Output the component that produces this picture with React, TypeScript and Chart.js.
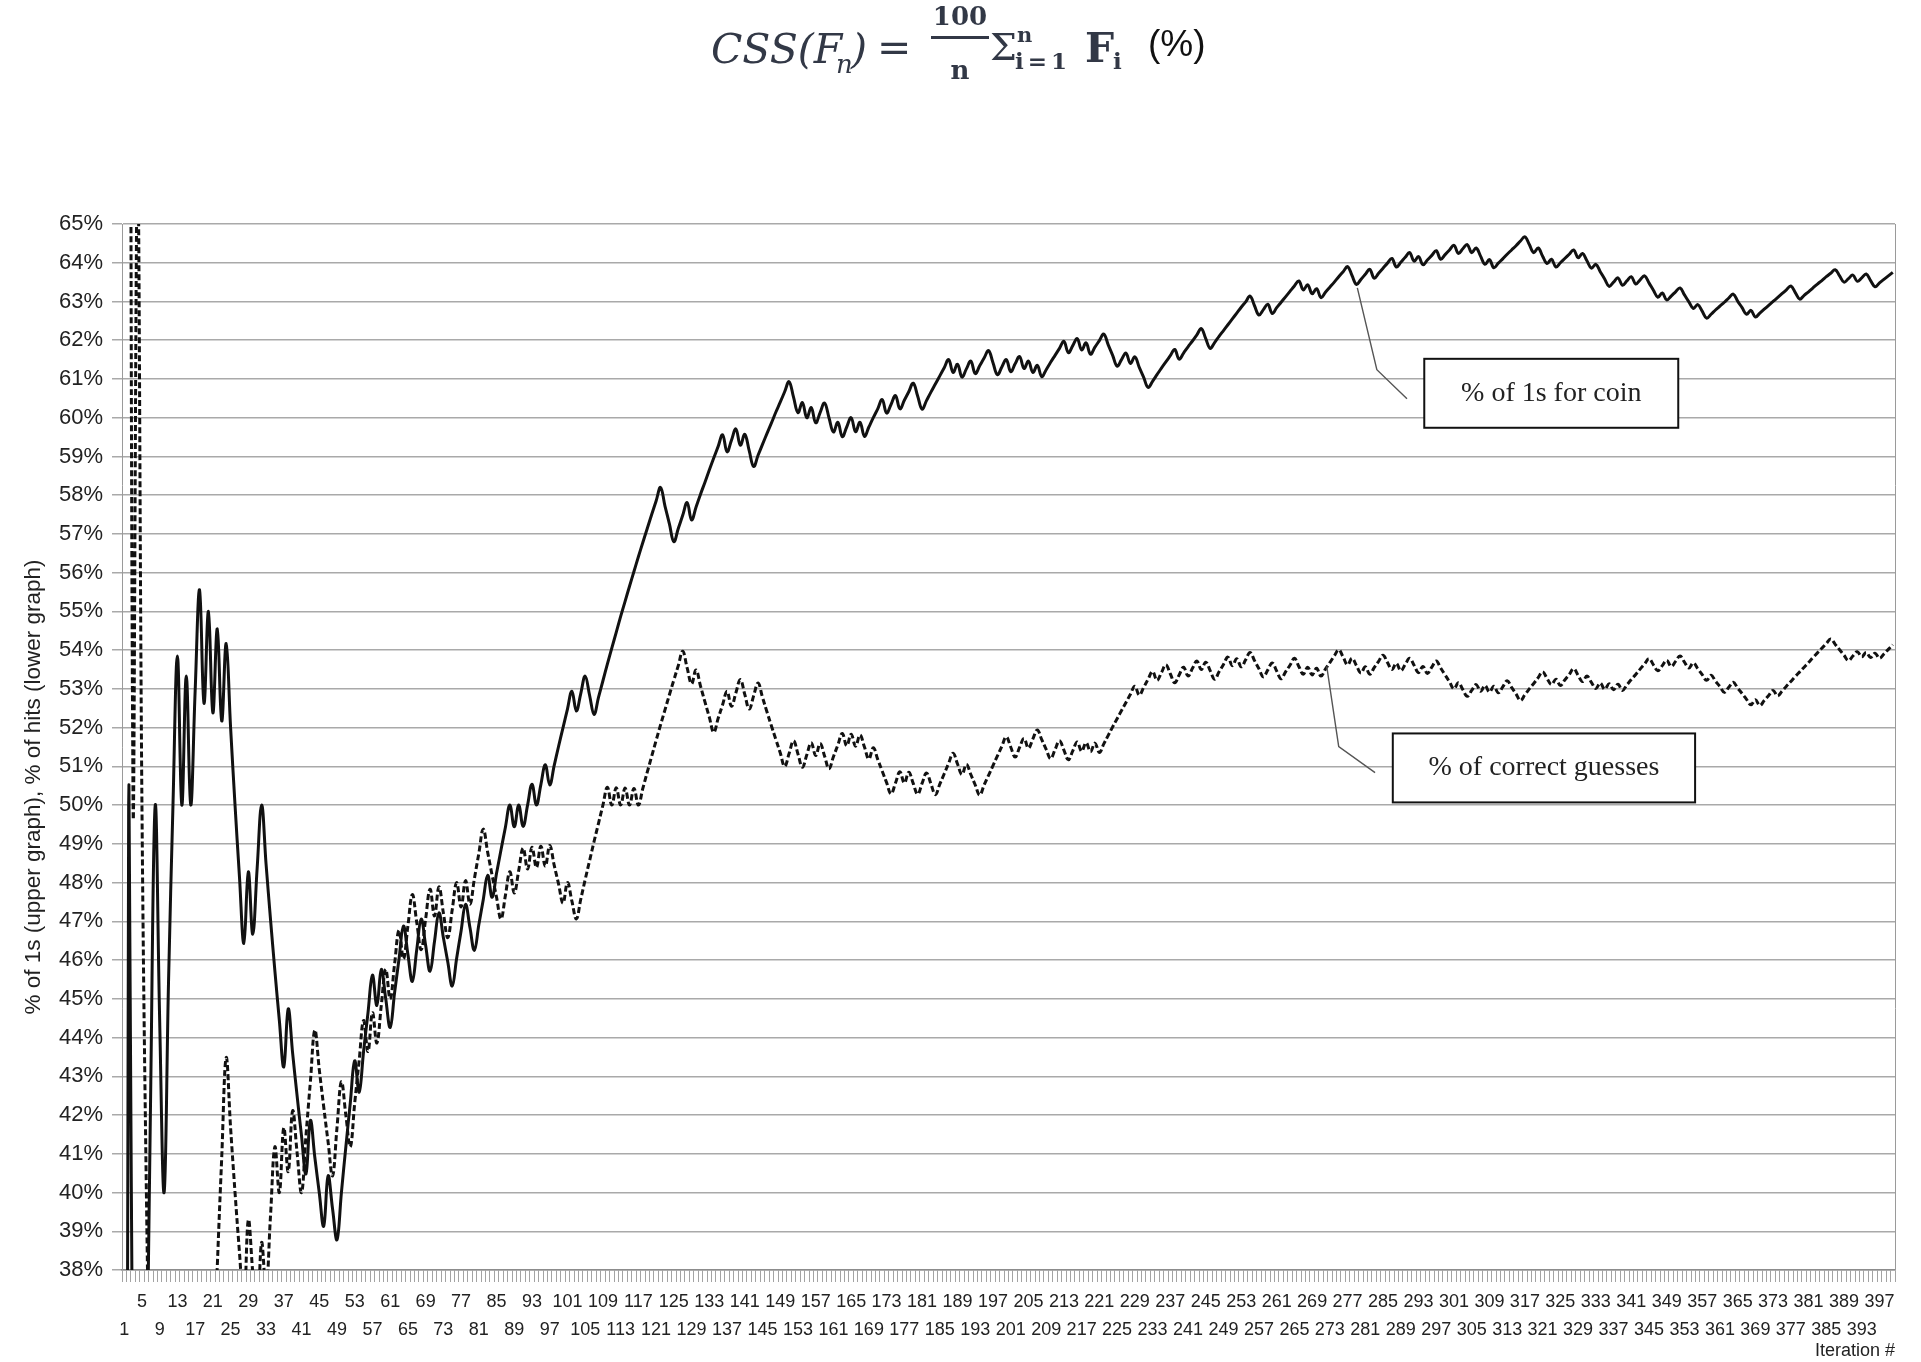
import React, { useEffect, useRef } from 'react';
import { Chart, registerables } from 'chart.js';

Chart.register(...registerables);

// ---------------- data ----------------
const firstIteration = 1;
const lastIteration = 400;
const iterations: number[] = Array.from(
  { length: lastIteration - firstIteration + 1 },
  (_, i) => firstIteration + i
);
const labelEvery = 4;

const yMin = 38;
const yMax = 65;
const yStep = 1;

// % of 1s for coin (upper graph)
const coinOnesPct: number[] = [
  0, 50, 33.33, 25, 20, 33.33, 42.86, 50, 44.44, 40, 45.45, 50, 53.85, 50, 53.33, 50, 52.94, 55.56, 52.63, 55,
  52.38, 54.55, 52.17, 54.17, 52, 50, 48.15, 46.43, 48.28, 46.67, 48.39, 50, 48.48, 47.06, 45.71, 44.44, 43.24, 44.74, 43.59, 42.5,
  41.46, 40.48, 41.86, 40.91, 40, 39.13, 40.43, 39.58, 38.78, 40, 41.18, 42.31, 43.4, 42.59, 43.64, 44.64, 45.61, 44.83, 45.76, 45,
  44.26, 45.16, 46.03, 46.88, 46.15, 45.45, 46.27, 47.06, 46.38, 45.71, 46.48, 47.22, 46.58, 45.95, 45.33, 46.05, 46.75, 47.44, 46.84, 46.25,
  46.91, 47.56, 48.19, 47.62, 48.24, 48.84, 49.43, 50, 49.44, 50, 49.45, 50, 50.54, 50, 50.53, 51.04, 50.52, 51.02, 51.52, 52,
  52.48, 52.94, 52.43, 52.88, 53.33, 52.83, 52.34, 52.78, 53.21, 53.64, 54.05, 54.46, 54.87, 55.26, 55.65, 56.03, 56.41, 56.78, 57.14, 57.5,
  57.85, 58.2, 57.72, 57.26, 56.8, 57.14, 57.48, 57.81, 57.36, 57.69, 58.02, 58.33, 58.65, 58.96, 59.26, 59.56, 59.12, 59.42, 59.71, 59.29,
  59.57, 59.15, 58.74, 59.03, 59.31, 59.59, 59.86, 60.14, 60.4, 60.67, 60.93, 60.53, 60.13, 60.39, 60, 60.26, 59.87, 60.13, 60.38, 60,
  59.63, 59.88, 59.51, 59.76, 60, 59.64, 59.88, 59.52, 59.76, 60, 60.23, 60.47, 60.12, 60.34, 60.57, 60.23, 60.45, 60.67, 60.89, 60.56,
  60.22, 60.44, 60.66, 60.87, 61.08, 61.29, 61.5, 61.17, 61.38, 61.05, 61.26, 61.46, 61.14, 61.34, 61.54, 61.73, 61.42, 61.11, 61.31, 61.5,
  61.19, 61.39, 61.58, 61.27, 61.46, 61.17, 61.35, 61.06, 61.24, 61.43, 61.61, 61.79, 61.97, 61.68, 61.86, 62.04, 61.75, 61.93, 61.64, 61.82,
  61.99, 62.16, 61.88, 61.61, 61.33, 61.5, 61.67, 61.4, 61.57, 61.3, 61.04, 60.78, 60.94, 61.11, 61.28, 61.44, 61.6, 61.76, 61.51, 61.67,
  61.83, 61.98, 62.14, 62.3, 62.04, 61.79, 61.94, 62.1, 62.25, 62.4, 62.55, 62.7, 62.85, 62.99, 63.14, 62.89, 62.65, 62.79, 62.93, 62.69,
  62.84, 62.98, 63.12, 63.26, 63.4, 63.53, 63.3, 63.43, 63.2, 63.33, 63.1, 63.24, 63.37, 63.5, 63.64, 63.77, 63.9, 63.67, 63.44, 63.57,
  63.7, 63.83, 63.6, 63.73, 63.86, 63.99, 64.11, 63.89, 64.01, 64.14, 64.26, 64.04, 64.16, 63.95, 64.07, 64.19, 64.31, 64.09, 64.21, 64.33,
  64.45, 64.24, 64.36, 64.47, 64.26, 64.38, 64.17, 63.96, 64.08, 63.87, 63.99, 64.1, 64.22, 64.33, 64.44, 64.56, 64.67, 64.47, 64.26, 64.38,
  64.17, 63.98, 64.09, 63.89, 64, 64.11, 64.22, 64.33, 64.13, 64.24, 64.05, 63.86, 63.96, 63.77, 63.58, 63.39, 63.5, 63.61, 63.42, 63.53,
  63.64, 63.45, 63.56, 63.66, 63.48, 63.29, 63.11, 63.22, 63.04, 63.14, 63.25, 63.35, 63.17, 62.99, 62.82, 62.92, 62.75, 62.57, 62.67, 62.78,
  62.88, 62.98, 63.09, 63.19, 63.01, 62.84, 62.67, 62.77, 62.6, 62.7, 62.8, 62.9, 63, 63.1, 63.2, 63.3, 63.4, 63.23, 63.06, 63.16,
  63.25, 63.35, 63.45, 63.54, 63.64, 63.73, 63.82, 63.66, 63.5, 63.59, 63.68, 63.52, 63.61, 63.71, 63.54, 63.38, 63.48, 63.57, 63.66, 63.75,
];

// % of correct guesses (lower graph)
const correctGuessPct: (number | null)[] = [
  null, 100, 50, 66.67, 50, 40, 33.33, 28.57, 37.5, 33.33, 30, 36.36, 33.33, 30.77, 35.71, 33.33, 31.25, 35.29, 33.33, 31.58,
  35, 38.1, 40.91, 43.48, 41.67, 40, 38.46, 37.04, 39.29, 37.93, 36.67, 38.71, 37.5, 39.39, 41.18, 40, 41.67, 40.54, 42.11, 41.03,
  40, 41.46, 42.86, 44.19, 43.18, 42.22, 41.3, 40.43, 41.67, 42.86, 42, 41.18, 42.31, 43.4, 44.44, 43.64, 44.64, 43.86, 44.83, 45.76,
  45, 45.9, 46.77, 46.03, 46.88, 47.69, 46.97, 46.27, 47.06, 47.83, 47.14, 47.89, 47.22, 46.58, 47.3, 48, 47.37, 48.05, 47.44, 48.1,
  48.75, 49.38, 48.78, 48.19, 47.62, 47.06, 47.67, 48.28, 47.73, 48.31, 48.89, 48.35, 48.91, 48.39, 48.94, 48.42, 48.96, 48.45, 47.96, 47.47,
  48, 47.52, 47.06, 47.57, 48.08, 48.57, 49.06, 49.53, 50, 50.46, 50, 50.45, 50, 50.44, 50, 50.43, 50, 50.43, 50.85, 51.26,
  51.67, 52.07, 52.46, 52.85, 53.23, 53.6, 53.97, 53.54, 53.13, 53.49, 53.08, 52.67, 52.27, 51.88, 52.24, 52.59, 52.94, 52.55, 52.9, 53.24,
  52.86, 52.48, 52.82, 53.15, 52.78, 52.41, 52.05, 51.7, 51.35, 51, 51.33, 51.66, 51.32, 50.98, 51.3, 51.61, 51.28, 51.59, 51.27, 50.94,
  51.25, 51.55, 51.85, 51.53, 51.83, 51.52, 51.81, 51.5, 51.19, 51.48, 51.18, 50.88, 50.58, 50.29, 50.57, 50.86, 50.57, 50.85, 50.56, 50.28,
  50.56, 50.83, 50.55, 50.27, 50.54, 50.81, 51.08, 51.34, 51.06, 50.79, 51.05, 50.79, 50.52, 50.26, 50.52, 50.77, 51.02, 51.27, 51.52, 51.76,
  51.5, 51.24, 51.49, 51.72, 51.47, 51.71, 51.94, 51.69, 51.44, 51.2, 51.43, 51.66, 51.42, 51.17, 51.4, 51.63, 51.39, 51.61, 51.38, 51.6,
  51.36, 51.58, 51.8, 52.02, 52.23, 52.44, 52.65, 52.86, 53.07, 52.84, 53.04, 53.25, 53.45, 53.22, 53.42, 53.62, 53.39, 53.16, 53.36, 53.56,
  53.33, 53.53, 53.72, 53.5, 53.69, 53.47, 53.25, 53.44, 53.63, 53.82, 53.6, 53.78, 53.57, 53.75, 53.94, 53.73, 53.52, 53.31, 53.49, 53.67,
  53.46, 53.26, 53.44, 53.61, 53.79, 53.58, 53.38, 53.56, 53.36, 53.53, 53.33, 53.51, 53.68, 53.85, 54.01, 53.82, 53.62, 53.79, 53.6, 53.41,
  53.57, 53.38, 53.55, 53.71, 53.87, 53.68, 53.5, 53.66, 53.47, 53.63, 53.79, 53.61, 53.42, 53.58, 53.4, 53.56, 53.72, 53.54, 53.36, 53.18,
  53, 53.16, 52.98, 52.81, 52.96, 53.11, 52.94, 53.09, 52.92, 53.07, 52.9, 53.05, 53.21, 53.04, 52.87, 52.7, 52.85, 53, 53.14, 53.29,
  53.44, 53.27, 53.11, 53.25, 53.09, 53.23, 53.37, 53.52, 53.35, 53.19, 53.33, 53.17, 53.01, 53.15, 52.99, 53.13, 52.98, 53.12, 52.96, 53.1,
  53.24, 53.37, 53.51, 53.64, 53.78, 53.62, 53.47, 53.6, 53.74, 53.58, 53.71, 53.85, 53.69, 53.54, 53.67, 53.52, 53.37, 53.22, 53.35, 53.2,
  53.06, 52.91, 53.04, 53.17, 53.02, 52.88, 52.73, 52.59, 52.72, 52.57, 52.7, 52.83, 52.96, 52.82, 52.94, 53.07, 53.19, 53.32, 53.44, 53.56,
  53.68, 53.81, 53.93, 54.05, 54.17, 54.29, 54.15, 54.01, 53.87, 53.73, 53.85, 53.96, 53.83, 53.94, 53.81, 53.92, 53.79, 53.9, 54.02, 54.14,
];

const yAxisTitle = '% of 1s (upper graph), % of hits (lower graph)';
const xAxisTitle = 'Iteration #';

// callouts: positions in data units (x = category index, y = percent)
const callouts = [
  {
    text: '% of 1s for coin',
    box: { x1: 293.3, x2: 350.6, y1: 61.52, y2: 59.74 },
    leader: [
      { x: 278.2, y: 63.35 },
      { x: 282.6, y: 61.24 },
      { x: 289.4, y: 60.49 },
    ],
  },
  {
    text: '% of correct guesses',
    box: { x1: 286.2, x2: 354.4, y1: 51.85, y2: 50.07 },
    leader: [
      { x: 271.3, y: 53.58 },
      { x: 274.0, y: 51.51 },
      { x: 282.2, y: 50.84 },
    ],
  },
];

const SANS = '"Liberation Sans", Arial, sans-serif';
const SERIF = '"Liberation Serif", "Times New Roman", serif';
const MATH = '"DejaVu Serif", serif';

const overlayPlugin = {
  id: 'overlay',
  beforeDatasetsDraw(chart: any) {
    const { ctx, chartArea: a } = chart;
    ctx.save();
    ctx.strokeStyle = '#9a9a9a';
    ctx.lineWidth = 1;
    ctx.beginPath();
    ctx.moveTo(a.right + 0.5, a.top);
    ctx.lineTo(a.right + 0.5, a.bottom);
    ctx.stroke();
    ctx.restore();
  },
  afterDraw(chart: any) {
    const { ctx, chartArea: a } = chart;
    const xs = chart.scales.x;
    const ys = chart.scales.y;
    ctx.save();
    // y axis title
    ctx.fillStyle = '#222';
    ctx.font = `22.5px ${SANS}`;
    ctx.textAlign = 'center';
    ctx.textBaseline = 'middle';
    ctx.translate(34, (a.top + a.bottom) / 2 + 40);
    ctx.rotate(-Math.PI / 2);
    ctx.fillText(yAxisTitle, 0, 0);
    ctx.restore();

    callouts.forEach((c) => {
      ctx.save();
      ctx.strokeStyle = '#555';
      ctx.lineWidth = 1.4;
      ctx.beginPath();
      c.leader.forEach((p, i) => {
        const px = xs.getPixelForValue(p.x);
        const py = ys.getPixelForValue(p.y);
        if (i === 0) ctx.moveTo(px, py);
        else ctx.lineTo(px, py);
      });
      ctx.stroke();
      const bx1 = xs.getPixelForValue(c.box.x1);
      const bx2 = xs.getPixelForValue(c.box.x2);
      const by1 = ys.getPixelForValue(c.box.y1);
      const by2 = ys.getPixelForValue(c.box.y2);
      ctx.fillStyle = '#fff';
      ctx.fillRect(bx1, by1, bx2 - bx1, by2 - by1);
      ctx.strokeStyle = '#111';
      ctx.lineWidth = 2;
      ctx.strokeRect(bx1, by1, bx2 - bx1, by2 - by1);
      ctx.fillStyle = '#222';
      ctx.font = `28px ${SERIF}`;
      ctx.textAlign = 'center';
      ctx.textBaseline = 'middle';
      ctx.fillText(c.text, (bx1 + bx2) / 2, (by1 + by2) / 2);
      ctx.restore();
    });
  },
};

function Formula() {
  const col = '#323846';
  const piece = (text: string, left: number, baseline: number, size: number, extra: any = {}) => (
    <span
      style={{
        position: 'absolute',
        left,
        top: baseline - 0.846 * size,
        fontSize: size,
        lineHeight: `${size}px`,
        fontFamily: MATH,
        color: col,
        whiteSpace: 'pre',
        ...extra,
      }}
    >
      {text}
    </span>
  );
  return (
    <div style={{ position: 'absolute', left: 0, top: 0, width: 1921, height: 100 }}>
      {piece('CSS(F', 711, 64, 41, { fontStyle: 'italic' })}
      {piece('n', 836, 73, 26, { fontStyle: 'italic' })}
      {piece(')', 851, 64, 41, { fontStyle: 'italic' })}
      {piece('=', 877, 62, 41)}
      {piece('100', 930, 25, 26, { fontWeight: 'bold', width: 60, textAlign: 'center' })}
      <div style={{ position: 'absolute', left: 931, top: 36, width: 58, height: 2.5, background: col }} />
      {piece('n', 930, 79, 26, { fontWeight: 'bold', width: 60, textAlign: 'center' })}
      {piece('Σ', 990, 60, 38)}
      {piece('n', 1017, 42, 21, { fontWeight: 'bold' })}
      {piece('i=1', 1015, 68, 23, { fontWeight: 'bold', letterSpacing: 4 })}
      {piece('F', 1085, 63, 41, { fontWeight: 'bold' })}
      {piece('i', 1113, 68, 23, { fontWeight: 'bold' })}
      {piece('(%)', 1148, 56, 37, { fontFamily: SANS, color: '#111' })}
    </div>
  );
}

export default function App() {
  const canvasRef = useRef<HTMLCanvasElement | null>(null);

  useEffect(() => {
    document.body.style.margin = '0';
    const canvas = canvasRef.current;
    if (!canvas) return;
    const chart = new Chart(canvas, {
      type: 'line',
      data: {
        labels: iterations.map(String),
        datasets: [
          {
            label: '% of 1s for coin',
            data: coinOnesPct,
            borderColor: '#111',
            borderWidth: 3,
            pointRadius: 0,
            tension: 0.4,
            fill: false,
          },
          {
            label: '% of correct guesses',
            data: correctGuessPct,
            borderColor: '#111',
            borderWidth: 3,
            borderDash: [6, 3],
            pointRadius: 0,
            tension: 0.4,
            fill: false,
          },
        ],
      },
      options: {
        responsive: false,
        devicePixelRatio: 1,
        animation: false,
        layout: { padding: { top: 224, right: 26, left: 0, bottom: 0 } },
        elements: { line: { capBezierPoints: false } },
        plugins: {
          legend: { display: false },
          tooltip: { enabled: false },
          title: { display: false },
        },
        scales: {
          x: {
            type: 'category',
            offset: true,
            grid: {
              display: true,
              drawOnChartArea: false,
              drawTicks: true,
              tickLength: 12,
              color: '#a3a3a3',
              lineWidth: 1,
              offset: true,
            },
            border: { display: true, color: '#8c8c8c', width: 1.5 },
            ticks: {
              autoSkip: false,
              maxRotation: 0,
              minRotation: 0,
              padding: 6.5,
              color: '#222',
              font: { family: SANS, size: 18, lineHeight: 1.55 },
              callback: (_v: any, index: number) => {
                const n = iterations[index];
                if ((n - firstIteration) % labelEvery !== 0) return '';
                const row = ((n - firstIteration) / labelEvery) % 2;
                return row === 0 ? ['', String(n)] : [String(n), ''];
              },
            },
            title: {
              display: true,
              text: xAxisTitle,
              align: 'end',
              color: '#222',
              font: { family: SANS, size: 18 },
              padding: { top: 0, bottom: 0 },
            },
            afterFit: (scale: any) => {
              scale.height = 92;
            },
          },
          y: {
            type: 'linear',
            min: yMin,
            max: yMax,
            ticks: {
              stepSize: yStep,
              padding: 9,
              color: '#222',
              font: { family: SANS, size: 22 },
              callback: (v: any) => `${v}%`,
            },
            grid: { color: '#a9a9a9', lineWidth: 1.5, tickLength: 10, drawTicks: true },
            border: { display: true, color: '#9a9a9a', width: 1 },
            afterFit: (scale: any) => {
              scale.width = 122;
            },
          },
        },
      },
      plugins: [overlayPlugin],
    } as any);
    return () => chart.destroy();
  }, []);

  return (
    <div style={{ position: 'absolute', left: 0, top: 0, width: 1921, height: 1362, background: '#fff', overflow: 'hidden' }}>
      <canvas ref={canvasRef} width={1921} height={1362} style={{ position: 'absolute', left: 0, top: 0 }} />
      <Formula />
    </div>
  );
}
